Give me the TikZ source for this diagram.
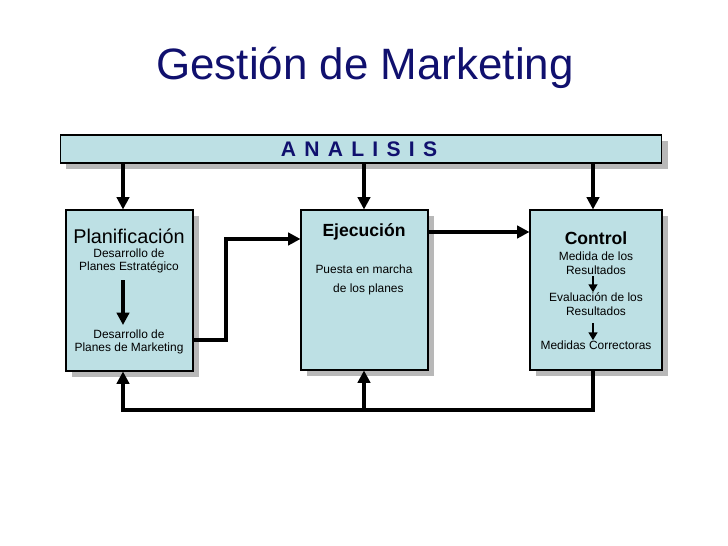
\documentclass[tikz,border=0pt]{standalone}
\usepackage{fontspec}
\setmainfont{Liberation Sans}
\usetikzlibrary{arrows.meta,shadows}
\definecolor{boxfill}{HTML}{BDE0E4}
\definecolor{titlenavy}{HTML}{10106E}
\definecolor{shadowgray}{HTML}{B8B8B8}

\begin{document}
\begin{tikzpicture}[x=0.02cm, y=-0.02cm,
    panel/.style={draw=black, line width=0.6pt, fill=boxfill, inner sep=0pt,
        drop shadow={shadow xshift=0.12cm, shadow yshift=-0.12cm, fill=shadowgray, opacity=1}},
    flow/.style={line width=2.2pt, line join=miter, -{Triangle[length=7pt, width=7pt]}},
    smallflow/.style={line width=1.6pt, -{Triangle[length=4.5pt, width=5pt]}},
    small/.style={font=\fontsize{6.8}{7.6}\selectfont, align=center, inner sep=0pt},
    boxtitle/.style={font=\bfseries\fontsize{10}{12}\selectfont, inner sep=0pt}]
    \useasboundingbox (0,0) rectangle (728,546);
    % title and top bar
    \node[font=\fontsize{25}{30}\selectfont, text=titlenavy] (title) at (365,68) {Gestión de Marketing};
    \node[panel, minimum width=12.04cm, minimum height=0.56cm] (analisis) at (361,149) {};
    \node[font=\bfseries\fontsize{12}{14}\selectfont, text=titlenavy] (analisistxt) at (359,149)
        {\spaceskip=4.7pt A N A L I S I S};
    % the three boxes
    \node[panel, minimum width=2.54cm, minimum height=3.22cm] (plan) at (129.5,290.5) {};
    \node[panel, minimum width=2.54cm, minimum height=3.2cm] (ejec) at (364.5,290) {};
    \node[panel, minimum width=2.64cm, minimum height=3.2cm] (ctrl) at (596,290) {};
    \coordinate (pa) at (123,0); \coordinate (pe) at (364,0); \coordinate (pc) at (593,0);
    % Planificacion
    \node[font=\fontsize{11.3}{13}\selectfont, inner sep=0pt] (plantit) at (129,236) {Planificación};
    \node[small] (planestr) at (129,261) {Desarrollo de\\Planes Estratégico};
    \node[small] (planmkt) at (129,342) {Desarrollo de\\Planes de Marketing};
    \draw[flow, shorten <=3.7pt, shorten >=2.5pt] (planestr.south -| pa) -- (planmkt.north -| pa);
    % Ejecucion
    \node[boxtitle] (ejectit) at (364,232) {Ejecución};
    \node[small, font=\fontsize{6.8}{10.8}\selectfont] (ejectxt) at (364,280)
        {Puesta en marcha\\\hspace*{5pt}de los planes};
    % Control
    \node[boxtitle] (ctrltit) at (596,238) {Control};
    \node[small, font=\fontsize{6.8}{7.9}\selectfont] (ctrlmed) at (596,263) {Medida de los\\Resultados};
    \node[small, font=\fontsize{6.8}{7.9}\selectfont] (ctrleval) at (596,304) {Evaluación de los\\Resultados};
    \node[small] (ctrlcorr) at (596,345) {Medidas Correctoras};
    \draw[smallflow, shorten <=1pt] (ctrlmed.south -| pc) -- (ctrleval.north -| pc);
    \draw[smallflow, shorten <=4pt] (ctrleval.south -| pc) -- (ctrlcorr.north -| pc);
    % connectors
    \draw[flow] (analisis.south -| pa) -- (plan.north -| pa);
    \draw[flow] (analisis.south -| pe) -- (ejec.north -| pe);
    \draw[flow] (analisis.south -| pc) -- (ctrl.north -| pc);
    \coordinate (bendlow) at (226,340); \coordinate (bendtop) at (226,239);
    \draw[flow] (bendlow -| plan.east) -- (bendlow) |- (ejec.west |- bendtop);
    \draw[flow] (ejec.east |- ejectit) -- (ctrl.west |- ejectit);
    \coordinate (fb) at (0,410);
    \draw[flow] (ctrl.south -| pc) |- (fb -| pa) -- (plan.south -| pa);
    \draw[flow] (fb -| pe) -- (ejec.south -| pe);
\end{tikzpicture}
\end{document}
